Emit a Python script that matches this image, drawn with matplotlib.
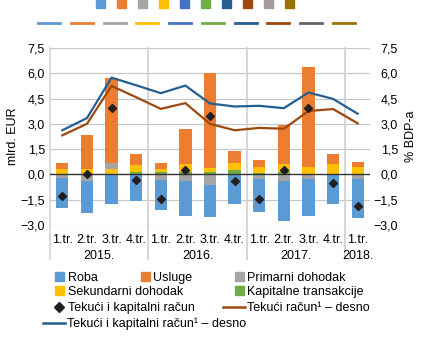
import numpy as np
import matplotlib
matplotlib.use("Agg")
import matplotlib.pyplot as plt
from matplotlib.patches import Patch
from matplotlib.lines import Line2D
from matplotlib.ticker import FuncFormatter

plt.rcParams['font.family'] = ['Liberation Sans', 'DejaVu Sans']

# ── data (mlrd. EUR / % BDP-a) ───────────────────────────────────────────────
quarters = ['1.tr.', '2.tr.', '3.tr.', '4.tr.'] * 3 + ['1.tr.']
years = ['2015.', '2016.', '2017.', '2018.']
year_sizes = [4, 4, 4, 1]

roba = [-1.73, -1.91, -1.77, -1.55, -1.80, -2.07, -1.89, -1.75, -1.96, -2.37, -2.16, -1.75, -2.30]
usluge = [0.34, 1.97, 5.02, 0.65, 0.34, 2.10, 5.60, 0.72, 0.40, 2.36, 5.97, 0.65, 0.32]
primarni = [-0.24, -0.39, 0.34, -0.02, -0.33, -0.39, -0.63, -0.02, -0.26, -0.39, -0.30, -0.02, -0.30]
sekundarni = [0.30, 0.32, 0.30, 0.39, 0.21, 0.45, 0.25, 0.39, 0.37, 0.45, 0.40, 0.57, 0.41]
kapitalne = [0.05, 0.03, 0.04, 0.16, 0.14, 0.15, 0.14, 0.26, 0.06, 0.14, 0.03, 0.02, 0.02]
tekuci_kap = [-1.27, 0.00, 3.94, -0.33, -1.45, 0.26, 3.44, -0.37, -1.44, 0.24, 3.94, -0.53, -1.85]
tekuci_bdp = [2.32, 3.00, 5.25, 4.58, 3.89, 4.23, 3.00, 2.62, 2.76, 2.71, 3.76, 3.88, 3.03]
tekuci_kap_bdp = [2.62, 3.34, 5.74, 5.29, 4.82, 5.27, 4.21, 4.03, 4.07, 3.93, 4.86, 4.48, 3.60]

C_ROBA, C_USL, C_PRIM, C_SEK, C_KAP = '#5B9BD5', '#ED7D31', '#A5A5A5', '#FFC000', '#70AD47'
C_BLUE, C_BROWN = '#255E91', '#9E480E'
GRID = '#C8C8C8'
SEP = '#D3D3D3'

W, H = 421, 338
FS = 9
fig = plt.figure(figsize=(W / 100, H / 100), dpi=100)
ax = fig.add_axes([50 / W, 1 - 225 / H, 320 / W, 177 / H])
ax2 = ax.twinx()

x = np.arange(len(quarters))
bw = 0.5

# stacked bars: positives and negatives stacked separately
pos = np.zeros(len(x))
neg = np.zeros(len(x))
for vals, col in [(kapitalne, C_KAP), (sekundarni, C_SEK), (primarni, C_PRIM),
                  (usluge, C_USL), (roba, C_ROBA)]:
    v = np.array(vals)
    bottom = np.where(v >= 0, pos, neg)
    ax.bar(x, v, bw, bottom=bottom, color=col, zorder=2, linewidth=0)
    pos = pos + np.where(v >= 0, v, 0)
    neg = neg + np.where(v < 0, v, 0)

ax.axhline(0, color='#333333', lw=1.0, zorder=3)
ax.plot(x, tekuci_bdp, color=C_BROWN, lw=1.6, zorder=3.5)
ax.plot(x, tekuci_kap_bdp, color=C_BLUE, lw=1.6, zorder=3.5)
ax.plot(x, tekuci_kap, 'D', color='#231F20', ms=4.3, zorder=4, ls='none')

# axes styling
ylim = (-3.0, 7.5)
yt = np.arange(-3.0, 7.6, 1.5)
fmt = FuncFormatter(lambda v, p: f"{v:.1f}".replace('.', ',').replace('-', '\u2212'))
for a in (ax, ax2):
    a.set_ylim(*ylim)
    a.set_yticks(yt)
    a.yaxis.set_major_formatter(fmt)
    for s in a.spines.values():
        s.set_visible(False)
ax.set_xlim(-0.5, len(x) - 0.5)
for g in yt:
    if g != 0:
        ax.axhline(g, color=GRID, lw=0.9, zorder=1)

ax.tick_params(axis='y', length=0, pad=3.6, labelsize=FS)
ax2.tick_params(axis='y', length=0, pad=20.2, labelsize=FS)
for lab in ax2.get_yticklabels():
    lab.set_ha('right')
ax.set_xticks(x)
ax.set_xticklabels(quarters, fontsize=FS)
ax.tick_params(axis='x', length=0, pad=6.2)

ax.set_ylabel('mlrd. EUR', fontsize=FS)
ax.yaxis.set_label_coords(-0.097, 0.5)
ax2.set_ylabel('% BDP-a', fontsize=FS)
ax2.yaxis.set_label_coords(1.11, 0.5)

# year groups and separators
trans = ax.get_xaxis_transform()
edges = np.concatenate([[0], np.cumsum(year_sizes)]) - 0.5
ax.plot([edges[0]] * 2, [1, -0.192], transform=trans, color=SEP, lw=1.2, clip_on=False, zorder=1)
for e in edges[1:-1]:
    ax.plot([e, e], [1, -0.192], transform=trans, color=SEP, lw=1.3, clip_on=False, zorder=1)
for yr, a, b in zip(years, edges[:-1], edges[1:]):
    ax.annotate(yr, xy=((a + b) / 2, 0), xycoords=trans, xytext=(0, -22),
                textcoords='offset points', ha='center', va='center', fontsize=FS)


# ── legend (each entry placed separately, like the original) ────────────────
def entry(handle, label, x0, y0, hl, text_x):
    tp = (text_x - x0) / (FS * 100 / 72) - hl
    fig.legend([handle], [label], loc='center left', bbox_to_anchor=(x0 / W, 1 - y0 / H),
               frameon=False, borderpad=0, borderaxespad=0, handlelength=hl,
               handletextpad=tp, fontsize=FS)


sq = 0.72
entry(Patch(color=C_ROBA), 'Roba', 55, 278, sq, 68)
entry(Patch(color=C_USL), 'Usluge', 141, 278, sq, 153)
entry(Patch(color=C_PRIM), 'Primarni dohodak', 235, 278, sq, 247)
entry(Patch(color=C_SEK), 'Sekundarni dohodak', 55, 292, sq, 68)
entry(Patch(color=C_KAP), 'Kapitalne transakcije', 235, 292, sq, 247)
entry(Line2D([], [], marker='D', color='#231F20', ms=5.5, ls='none'),
      'Tekući i kapitalni račun', 55, 308, sq, 68)
entry(Line2D([], [], color=C_BROWN, lw=1.8), 'Tekući račun¹ – desno', 223, 308, 1.76, 247)
entry(Line2D([], [], color=C_BLUE, lw=1.8), 'Tekući i kapitalni račun¹ – desno', 43, 324, 1.76, 67)

# stray legend keys at the top of the original picture
sq_cols = ['#5B9BD5', '#ED7D31', '#A5A5A5', '#FFC000', '#4472C4', '#70AD47',
           '#255E91', '#9E480E', '#A39BA1', '#997300']
ln_cols = ['#5B9BD5', '#ED7D31', '#A5A5A5', '#FFC000', '#4472C4', '#70AD47',
           '#255E91', '#9E480E', '#636363', '#997300']
fig.legend([Patch(color=c) for c in sq_cols], [''] * len(sq_cols), ncol=len(sq_cols),
           loc='center left', bbox_to_anchor=(96 / W, 1 - 4.5 / H), frameon=False,
           borderpad=0, borderaxespad=0, handlelength=sq, handletextpad=0,
           columnspacing=0.96, fontsize=FS)
fig.legend([Line2D([], [], color=c, lw=2) for c in ln_cols], [''] * len(ln_cols),
           ncol=len(ln_cols), loc='center left', bbox_to_anchor=(38 / W, 1 - 24 / H),
           frameon=False, borderpad=0, borderaxespad=0, handlelength=1.76,
           handletextpad=0, columnspacing=0.86, fontsize=FS)

fig.savefig('out.png', dpi=100)
